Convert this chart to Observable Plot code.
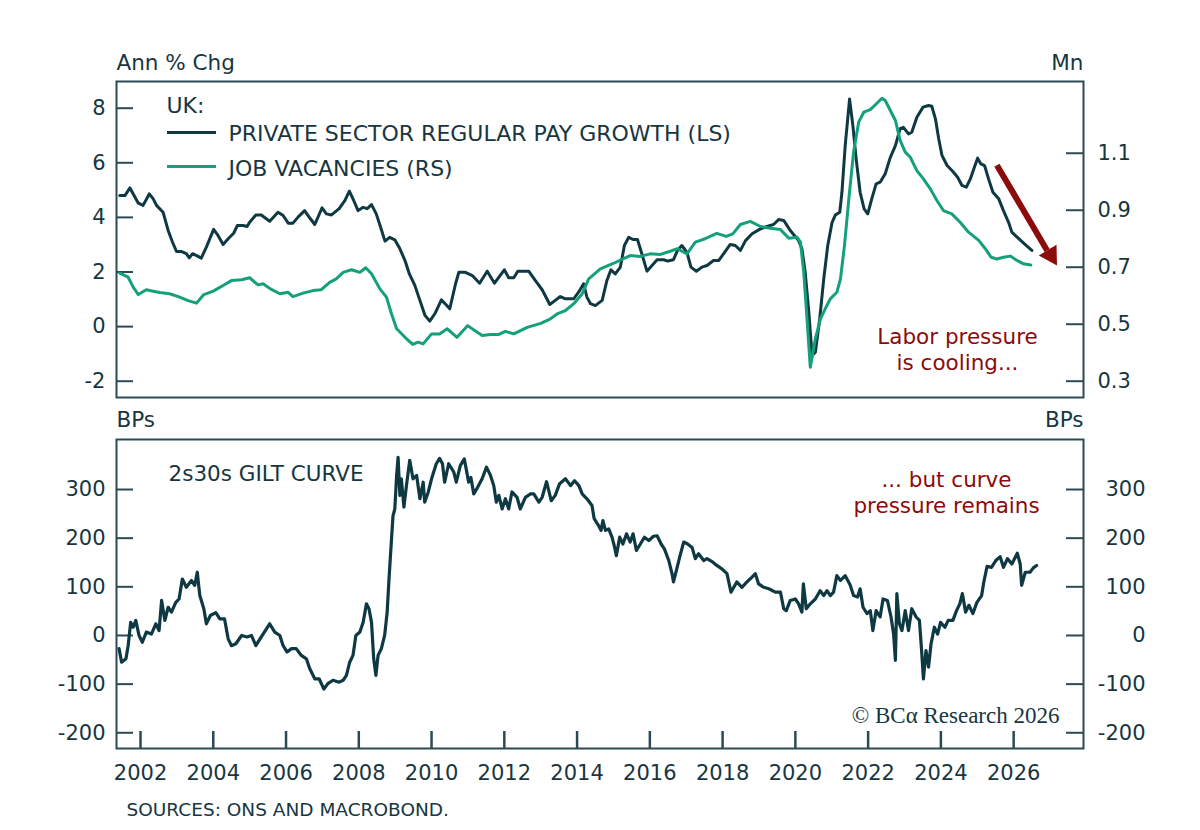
<!DOCTYPE html>
<html>
<head>
<meta charset="utf-8">
<script src="https://cdn.jsdelivr.net/npm/d3@7"></script>
<script src="https://cdn.jsdelivr.net/npm/@observablehq/plot@0.6"></script>
<style>
  body { margin: 0; background: #ffffff; }
  #chart { position: relative; width: 1200px; height: 830px; font-family: "DejaVu Sans", sans-serif; }
  #top, #bottom { position: absolute; left: 0; }
  #top { top: 0; }
  #bottom { top: 400px; }
  .sw { position: absolute; height: 3px; }
</style>
</head>
<body>
<div id="chart">
  <div id="top"></div>
  <div id="bottom"></div>
  <div class="sw" id="swPay"></div>
  <div class="sw" id="swVac"></div>
</div>
<script>
// ---------- DATA ----------
// UK private sector regular pay growth, Ann % Chg (left scale)
const payYears = [2001.43,2001.57,2001.71,2001.80,2001.94,2002.07,2002.24,2002.35,2002.44,2002.62,2002.76,2002.88,2002.99,2003.13,2003.26,2003.34,2003.43,2003.58,2003.67,2003.81,2004.01,2004.13,2004.27,2004.41,2004.56,2004.66,2004.82,2004.93,2005.00,2005.17,2005.32,2005.55,2005.78,2005.92,2006.06,2006.19,2006.33,2006.51,2006.67,2006.79,2006.99,2007.11,2007.25,2007.46,2007.62,2007.74,2007.86,2007.98,2008.12,2008.23,2008.35,2008.48,2008.60,2008.72,2008.85,2008.99,2009.13,2009.27,2009.39,2009.54,2009.68,2009.82,2009.95,2010.09,2010.27,2010.40,2010.50,2010.66,2010.75,2010.93,2011.12,2011.32,2011.53,2011.73,2012.00,2012.12,2012.26,2012.37,2012.67,2012.85,2013.04,2013.25,2013.40,2013.54,2013.68,2013.91,2014.07,2014.18,2014.27,2014.37,2014.50,2014.69,2014.82,2014.93,2015.05,2015.19,2015.30,2015.42,2015.54,2015.66,2015.78,2015.92,2016.06,2016.20,2016.38,2016.49,2016.65,2016.76,2016.88,2017.02,2017.13,2017.28,2017.43,2017.57,2017.75,2017.89,2018.03,2018.21,2018.35,2018.49,2018.63,2018.81,2019.04,2019.22,2019.40,2019.54,2019.68,2019.86,2020.09,2020.18,2020.27,2020.37,2020.46,2020.55,2020.67,2020.78,2020.89,2021.01,2021.10,2021.22,2021.28,2021.37,2021.49,2021.58,2021.67,2021.78,2021.89,2021.99,2022.10,2022.22,2022.33,2022.47,2022.61,2022.75,2022.88,2022.97,2023.11,2023.20,2023.34,2023.51,2023.66,2023.75,2023.85,2023.94,2024.03,2024.17,2024.33,2024.46,2024.58,2024.70,2024.81,2024.92,2025.01,2025.10,2025.20,2025.31,2025.43,2025.59,2025.72,2025.86,2025.95,2026.14,2026.32,2026.50];
const payValues = [4.80,4.80,5.08,4.86,4.52,4.44,4.86,4.68,4.44,4.19,3.52,3.09,2.75,2.75,2.67,2.52,2.67,2.57,2.51,2.91,3.56,3.34,3.01,3.22,3.42,3.70,3.70,3.67,3.82,4.09,4.09,3.86,4.19,4.07,3.79,3.79,4.01,4.25,3.95,3.74,4.35,4.13,4.09,4.32,4.62,4.96,4.62,4.25,4.37,4.32,4.47,4.13,3.64,3.13,3.27,3.18,2.85,2.42,1.93,1.51,0.96,0.41,0.20,0.47,0.98,0.80,0.65,1.57,1.99,1.99,1.87,1.59,2.03,1.59,2.08,1.79,1.79,2.03,2.03,1.69,1.35,0.81,0.96,1.10,1.02,1.02,1.32,1.57,1.08,0.84,0.77,0.96,1.69,2.08,1.93,2.18,2.97,3.27,3.19,3.19,2.67,2.03,2.24,2.45,2.45,2.40,2.45,2.79,2.97,2.72,2.18,2.03,2.18,2.24,2.42,2.42,2.67,3.01,2.97,2.79,3.15,3.40,3.58,3.67,3.74,3.92,3.89,3.52,3.15,2.85,1.99,0.53,-1.06,-0.94,0.29,1.75,2.97,3.82,4.09,4.19,4.92,6.63,8.34,7.37,6.15,4.92,4.31,4.13,4.68,5.23,5.29,5.60,6.20,6.63,7.25,7.30,7.06,7.12,7.67,8.04,8.10,8.07,7.61,6.88,6.27,5.90,5.68,5.47,5.17,5.11,5.41,5.84,6.17,5.96,5.90,5.41,4.92,4.68,4.25,3.82,3.46,3.22,3.00,2.79];

// UK job vacancies, Mn (right scale)
const vacYears = [2001.43,2001.66,2001.80,2001.94,2002.16,2002.35,2002.53,2002.80,2003.04,2003.31,2003.54,2003.74,2004.00,2004.27,2004.50,2004.78,2005.00,2005.23,2005.37,2005.57,2005.83,2006.06,2006.19,2006.47,2006.74,2006.97,2007.20,2007.38,2007.57,2007.80,2008.03,2008.19,2008.35,2008.58,2008.76,2008.90,2009.04,2009.27,2009.48,2009.63,2009.77,2010.00,2010.22,2010.43,2010.70,2010.99,2011.39,2011.62,2011.85,2012.03,2012.26,2012.63,2013.00,2013.27,2013.45,2013.68,2013.91,2014.14,2014.32,2014.64,2015.01,2015.26,2015.46,2015.74,2016.01,2016.29,2016.56,2016.76,2017.02,2017.25,2017.52,2017.84,2018.10,2018.28,2018.49,2018.76,2019.04,2019.31,2019.59,2019.82,2020.05,2020.14,2020.23,2020.32,2020.41,2020.55,2020.69,2020.82,2020.96,2021.14,2021.24,2021.35,2021.47,2021.60,2021.74,2021.88,2022.06,2022.22,2022.38,2022.47,2022.61,2022.75,2022.88,2023.02,2023.16,2023.34,2023.52,2023.71,2023.89,2024.07,2024.30,2024.53,2024.76,2025.04,2025.22,2025.38,2025.54,2025.72,2025.91,2026.09,2026.27,2026.47];
const vacValues = [0.679,0.665,0.630,0.604,0.621,0.616,0.611,0.607,0.597,0.583,0.574,0.604,0.616,0.636,0.653,0.656,0.663,0.638,0.642,0.624,0.607,0.612,0.597,0.609,0.618,0.621,0.647,0.659,0.682,0.691,0.682,0.698,0.677,0.624,0.595,0.536,0.484,0.454,0.429,0.437,0.431,0.466,0.466,0.484,0.454,0.495,0.460,0.464,0.464,0.475,0.466,0.489,0.503,0.519,0.536,0.548,0.572,0.607,0.659,0.694,0.714,0.729,0.741,0.738,0.747,0.745,0.756,0.765,0.747,0.788,0.800,0.819,0.808,0.817,0.850,0.861,0.843,0.837,0.832,0.802,0.805,0.788,0.682,0.519,0.349,0.449,0.519,0.554,0.589,0.612,0.659,0.776,0.940,1.104,1.209,1.244,1.253,1.273,1.293,1.285,1.250,1.215,1.145,1.104,1.086,1.039,1.010,0.975,0.934,0.899,0.887,0.858,0.823,0.794,0.765,0.735,0.729,0.735,0.739,0.724,0.712,0.708];

// UK 2s30s gilt curve, BPs
const giltYears = [2001.41,2001.48,2001.60,2001.66,2001.73,2001.80,2001.87,2001.96,2002.05,2002.16,2002.30,2002.42,2002.51,2002.58,2002.67,2002.76,2002.85,2002.97,2003.06,2003.15,2003.26,2003.40,2003.49,2003.56,2003.63,2003.74,2003.81,2003.92,2004.07,2004.18,2004.31,2004.41,2004.50,2004.62,2004.78,2004.93,2005.05,2005.17,2005.32,2005.55,2005.69,2005.83,2005.92,2006.03,2006.15,2006.28,2006.42,2006.56,2006.65,2006.79,2006.91,2007.04,2007.15,2007.29,2007.46,2007.57,2007.66,2007.75,2007.84,2007.92,2008.03,2008.12,2008.21,2008.28,2008.35,2008.41,2008.47,2008.53,2008.62,2008.71,2008.78,2008.83,2008.90,2008.94,2008.99,2009.04,2009.08,2009.13,2009.17,2009.24,2009.31,2009.40,2009.49,2009.59,2009.68,2009.77,2009.81,2009.91,2010.00,2010.13,2010.22,2010.30,2010.36,2010.47,2010.61,2010.68,2010.79,2010.90,2011.02,2011.08,2011.16,2011.27,2011.39,2011.51,2011.62,2011.71,2011.78,2011.85,2011.94,2012.03,2012.12,2012.21,2012.35,2012.44,2012.58,2012.72,2012.81,2012.95,2013.04,2013.16,2013.29,2013.40,2013.52,2013.68,2013.82,2013.93,2014.05,2014.14,2014.27,2014.41,2014.47,2014.59,2014.66,2014.71,2014.78,2014.87,2014.96,2015.02,2015.08,2015.17,2015.26,2015.36,2015.46,2015.54,2015.63,2015.74,2015.85,2015.97,2016.10,2016.20,2016.31,2016.40,2016.52,2016.61,2016.65,2016.73,2016.82,2016.93,2017.04,2017.16,2017.25,2017.34,2017.48,2017.57,2017.71,2017.84,2017.98,2018.12,2018.23,2018.39,2018.53,2018.67,2018.81,2018.90,2018.99,2019.13,2019.27,2019.45,2019.59,2019.68,2019.75,2019.86,2020.00,2020.09,2020.18,2020.22,2020.30,2020.41,2020.55,2020.68,2020.78,2020.87,2020.96,2021.05,2021.14,2021.24,2021.37,2021.51,2021.60,2021.71,2021.78,2021.86,2021.97,2022.06,2022.13,2022.22,2022.33,2022.41,2022.53,2022.63,2022.70,2022.75,2022.79,2022.86,2022.93,2023.02,2023.11,2023.20,2023.32,2023.41,2023.47,2023.52,2023.59,2023.66,2023.73,2023.82,2023.91,2023.99,2024.11,2024.20,2024.33,2024.43,2024.52,2024.59,2024.68,2024.77,2024.88,2024.99,2025.12,2025.18,2025.27,2025.39,2025.51,2025.63,2025.72,2025.83,2025.95,2026.10,2026.18,2026.22,2026.32,2026.45,2026.54,2026.63];
const giltValues = [-27,-55,-48,-21,27,17,31,0,-14,7,3,24,10,72,31,58,48,68,75,116,99,113,103,130,82,55,24,41,47,34,34,-7,-21,-17,0,-3,0,-21,-3,24,7,0,-21,-34,-27,-27,-41,-48,-68,-89,-89,-110,-99,-92,-96,-92,-82,-55,-41,0,7,27,65,55,27,-48,-82,-41,-27,0,48,116,199,246,260,329,366,288,322,264,308,360,322,329,281,315,274,295,322,353,364,353,315,353,336,315,349,363,315,325,291,305,322,346,329,308,274,288,260,281,260,295,284,260,284,291,291,274,284,316,277,288,312,322,308,318,308,291,281,267,240,226,216,236,216,219,202,185,164,202,188,209,192,209,175,188,202,195,204,205,188,178,154,127,110,134,161,192,188,181,158,168,154,158,152,144,137,127,89,110,99,110,120,127,106,99,96,89,89,55,51,72,75,65,48,106,55,65,75,92,82,92,82,89,123,113,123,103,82,79,96,58,45,51,10,51,38,75,72,38,3,-51,86,24,10,51,10,55,38,31,-31,-89,-31,-65,-17,17,3,27,17,31,31,51,65,86,48,62,45,68,82,110,142,140,154,162,140,158,147,169,147,103,130,130,139,144];

// Axis ticks
const yearTicks = [2002,2004,2006,2008,2010,2012,2014,2016,2018,2020,2022,2024,2026];
const payTicks = [-2,0,2,4,6,8];
const vacTicks = [0.3,0.5,0.7,0.9,1.1];
const giltTicks = [-200,-100,0,100,200,300];

// Annotation arrow (x in years, y in Mn on the right scale)
const arrowFrom = [2025.54, 1.058];
const arrowTo = [2026.92, 0.759];
const arrowHead = [2027.02, 0.742];

// ---------- STYLE ----------
const TEXT = "#17363f", DARK = "#0e3943", GREEN = "#13a07b", RED = "#8b0a0a", FRAME = "#2c4a53";
const FONT = "'DejaVu Sans', sans-serif";
const FS = 21.5, TFS = 21, LFS = 22;
const W = 1200, ML = 116, MR = 117, TICK = 17;
const frameW = W - ML - MR;
const X_DOMAIN = [2001.34, 2027.92];

// right (Mn) scale mapped onto left (%) scale
const toLeft = r => -2 + (r - 0.3) * 10.4375;
const fromLeft = v => 0.3 + (v + 2) / 10.4375;

const pay = payYears.map((x, i) => ({x, y: payValues[i]}));
const vac = vacYears.map((x, i) => ({x, y: toLeft(vacValues[i])}));
const gilt = giltYears.map((x, i) => ({x, y: giltValues[i]}));
const vacTickPos = vacTicks.map(toLeft);

const txt = (s, o) => Plot.text([s], {text: d => d, fill: TEXT, fontSize: FS, lineAnchor: "bottom", ...o});
const axisOpts = {tickSize: 0, fontSize: TFS, fill: TEXT, label: null};

const topPlot = Plot.plot({
  width: W, height: 400,
  marginTop: 81, marginBottom: 3, marginLeft: ML, marginRight: MR,
  style: {fontFamily: FONT, fontSize: FS + "px", color: TEXT, background: "transparent", overflow: "visible"},
  x: {domain: X_DOMAIN, axis: null},
  y: {domain: [-2.597, 8.978], axis: null},
  marks: [
    Plot.axisY(payTicks, {...axisOpts, anchor: "left", tickPadding: 11, tickFormat: d => String(d)}),
    Plot.axisY(vacTickPos, {...axisOpts, anchor: "right", tickPadding: 14, tickFormat: d => fromLeft(d).toFixed(1)}),
    Plot.tickY(payTicks, {y: d => d, insetRight: frameW - TICK, stroke: FRAME, strokeWidth: 2}),
    Plot.tickY(vacTickPos, {y: d => d, insetLeft: frameW - TICK, stroke: FRAME, strokeWidth: 2}),
    Plot.line(pay, {x: "x", y: "y", stroke: DARK, strokeWidth: 3, strokeLinejoin: "round"}),
    Plot.line(vac, {x: "x", y: "y", stroke: GREEN, strokeWidth: 3, strokeLinejoin: "round"}),
    Plot.link([{a: arrowFrom, b: arrowTo}], {x1: d => d.a[0], y1: d => toLeft(d.a[1]), x2: d => d.b[0], y2: d => toLeft(d.b[1]), stroke: RED, strokeWidth: 6}),
    Plot.dot([arrowHead], {x: d => d[0], y: d => toLeft(d[1]), symbol: "triangle", r: 7.7, fill: RED, stroke: "none", rotate: 148.7}),
    Plot.frame({stroke: FRAME, strokeWidth: 2}),
    txt("Ann % Chg", {frameAnchor: "top-left", dy: -12, textAnchor: "start"}),
    txt("Mn", {frameAnchor: "top-right", dy: -12, textAnchor: "end"}),
    txt("UK:", {frameAnchor: "top-left", dx: 50, dy: 31.7, textAnchor: "start", fontSize: LFS}),
    txt("PRIVATE SECTOR REGULAR PAY GROWTH (LS)", {frameAnchor: "top-left", dx: 112, dy: 59.7, textAnchor: "start", fontSize: LFS}),
    txt("JOB VACANCIES (RS)", {frameAnchor: "top-left", dx: 112, dy: 94, textAnchor: "start", fontSize: LFS}),
    txt("Labor pressure\nis cooling...", {frameAnchor: "top-left", dx: 841, dy: 288, textAnchor: "middle", fill: RED, lineHeight: 1.21})
  ]
});
document.getElementById("top").append(topPlot);

const bottomPlot = Plot.plot({
  width: W, height: 430,
  marginTop: 39, marginBottom: 82, marginLeft: ML, marginRight: MR,
  style: {fontFamily: FONT, fontSize: FS + "px", color: TEXT, background: "transparent", overflow: "visible"},
  x: {domain: X_DOMAIN, axis: null},
  y: {domain: [-232.3, 402.8], axis: null},
  marks: [
    Plot.axisY(giltTicks, {...axisOpts, anchor: "left", tickPadding: 11, tickFormat: d => String(d)}),
    Plot.axisY(giltTicks, {...axisOpts, anchor: "right", tickPadding: 62, textAnchor: "end", tickFormat: d => String(d)}),
    Plot.axisX(yearTicks, {...axisOpts, anchor: "bottom", tickPadding: 17, tickFormat: d => String(d)}),
    Plot.tickY(giltTicks, {y: d => d, insetRight: frameW - TICK, stroke: FRAME, strokeWidth: 2}),
    Plot.tickY(giltTicks, {y: d => d, insetLeft: frameW - TICK, stroke: FRAME, strokeWidth: 2}),
    Plot.tickX(yearTicks, {x: d => d, insetTop: 309 - TICK, stroke: FRAME, strokeWidth: 2.5}),
    Plot.line(gilt, {x: "x", y: "y", stroke: DARK, strokeWidth: 3.2, strokeLinejoin: "round"}),
    Plot.frame({stroke: FRAME, strokeWidth: 2}),
    txt("BPs", {frameAnchor: "top-left", dy: -12.3, textAnchor: "start"}),
    txt("BPs", {frameAnchor: "top-right", dy: -12.3, textAnchor: "end"}),
    txt("2s30s GILT CURVE", {frameAnchor: "top-left", dx: 52, dy: 41, textAnchor: "start"}),
    txt("... but curve\npressure remains", {frameAnchor: "top-left", dx: 830, dy: 73.7, textAnchor: "middle", fill: RED, lineHeight: 1.24}),
    txt("© BCα Research 2026", {frameAnchor: "top-left", dx: 943, dy: 283, textAnchor: "end", fontFamily: "'Liberation Serif', 'DejaVu Serif', serif", fontSize: 23}),
    txt("SOURCES: ONS AND MACROBOND.", {frameAnchor: "bottom-left", dx: 10, dy: 67, textAnchor: "start", fontSize: 18.5})
  ]
});
document.getElementById("bottom").append(bottomPlot);

// legend swatches
Object.assign(document.getElementById("swPay").style, {left: "167px", top: "131px", width: "49px", background: DARK});
Object.assign(document.getElementById("swVac").style, {left: "167px", top: "164.5px", width: "49px", background: GREEN});
</script>
</body>
</html>
